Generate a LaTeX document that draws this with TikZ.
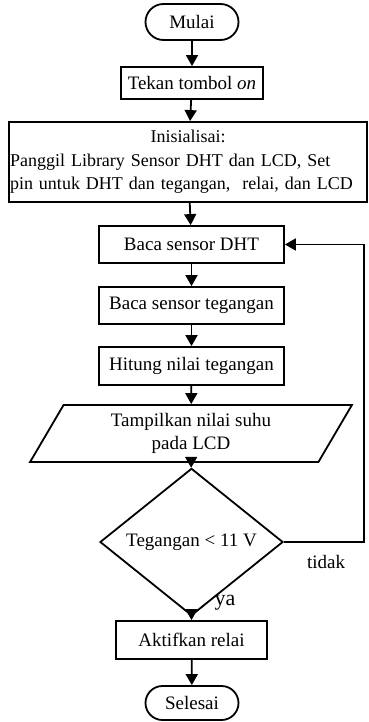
\documentclass[tikz,border=0pt]{standalone}
\usepackage{fontspec}
\setmainfont{Liberation Serif}
\usetikzlibrary{shapes.geometric,shapes.misc,arrows.meta}
\begin{document}
\begin{tikzpicture}[x=1pt,y=-1pt,line width=1.8pt,font=\fontsize{19}{23}\selectfont,
terminal/.style={draw,rounded rectangle,minimum width=97pt,minimum height=36pt,inner sep=2pt},
proses/.style={draw,rectangle,minimum height=37pt,inner sep=2pt},
io/.style={draw,trapezium,trapezium left angle=64,trapezium right angle=116,trapezium stretches=true,minimum width=322pt,minimum height=57pt,align=center,inner sep=2pt},
keputusan/.style={draw,diamond,minimum width=183pt,minimum height=110pt,inner sep=0pt},
panah/.style={-{Triangle[length=11pt,width=12pt]}}]
\useasboundingbox (0,0) rectangle (369,722);
\node [terminal] (mulai) at (192,22) {Mulai};
\node [proses,minimum width=142pt,minimum height=32pt] (tekan) at (192,83) {Tekan tombol \textit{on}};
\node [proses,minimum width=358pt,minimum height=80pt,text width=356pt,inner xsep=1pt,align=left,font=\fontsize{18}{23.5}\selectfont] (init) at (188,162) {\makebox[356pt]{Inisialisai:}\\Panggil Library Sensor DHT dan LCD, Set\\pin untuk DHT dan tegangan, \ relai, dan LCD};
\node [proses,minimum width=185pt] (dht) at (191.5,244.5) {Baca sensor DHT};
\node [proses,minimum width=185pt] (teg) at (191.5,305.5) {Baca sensor tegangan};
\node [proses,minimum width=185pt,minimum height=38pt] (hitung) at (191.5,366) {Hitung nilai tegangan};
\node [io] (tampil) at (191,433.5) {Tampilkan nilai suhu\\pada LCD};
\node [keputusan] (cek) at (191.5,542) {Tegangan < 11 V};
\node [proses,minimum width=151pt,minimum height=38pt] (aktif) at (191.5,640) {Aktifkan relai};
\node [terminal,minimum height=34pt] (selesai) at (192,703) {Selesai};
\node (tidak) at (326,562) {tidak};
\node [font=\fontsize{22}{26}\selectfont] (ya) at (225,603) {ya};
\coordinate (balik) at (364,542);
\draw [panah] (mulai) -- (tekan);
\draw [panah] (tekan) -- (init);
\draw [panah] (init) -- (dht);
\draw [panah] (dht) -- (teg);
\draw [panah] (teg) -- (hitung);
\draw [panah] (hitung) -- (tampil);
\draw [panah] (tampil) -- (cek);
\draw [panah] (cek) -- (aktif);
\draw [panah] (aktif) -- (selesai);
\draw [panah] (cek.east) -- (balik) |- (dht.east);
\end{tikzpicture}
\end{document}
